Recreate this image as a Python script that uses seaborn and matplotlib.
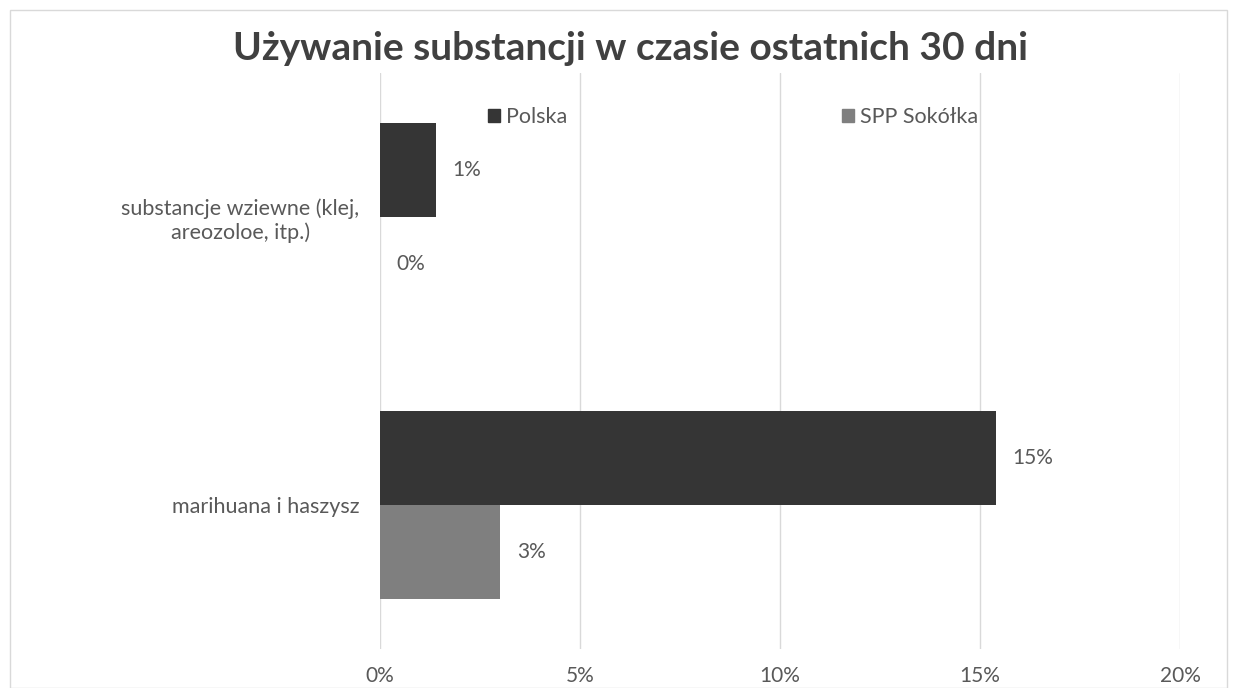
import pandas as pd
import numpy as np
import matplotlib.pyplot as plt
import seaborn as sns
from matplotlib.patches import Rectangle

categories = ['substancje wziewne (klej,\nareozoloe, itp.)', 'marihuana i haszysz']
series = ['Polska', 'SPP Sokółka']
polska = [1.4, 15.4]
sokolka = [0.0, 3.0]
xticks = [0, 5, 10, 15, 20]

df = pd.DataFrame({
    'kategoria': categories * 2,
    'grupa': [series[0]] * 2 + [series[1]] * 2,
    'wartosc': polska + sokolka,
})

sns.set_theme(style='white')
plt.rcParams['font.family'] = ['Lato', 'DejaVu Sans']

fig = plt.figure(figsize=(12.37, 6.88), dpi=100)
ax = fig.add_axes([380 / 1237, 1 - 649 / 688, 800 / 1237, 576 / 688])

sns.barplot(data=df, y='kategoria', x='wartosc', hue='grupa', orient='h',
            order=categories, hue_order=series,
            palette=['#353535', '#7f7f7f'], width=0.65, saturation=1,
            linewidth=0, ax=ax, legend=False)

for cont in ax.containers:
    ax.bar_label(cont, labels=[f'{v:.0f}%' for v in cont.datavalues],
                 padding=12, fontsize=15, color='#595959')

ax.set_xlim(0, 20)
ax.set_xticks(xticks)
ax.set_xticklabels([f'{t}%' for t in xticks], fontsize=15, color='#595959')
ax.tick_params(axis='x', length=0, pad=12)
ax.tick_params(axis='y', length=0, pad=15)
for lab in ax.get_yticklabels():
    lab.set_fontsize(15.5)
    lab.set_color('#595959')
    lab.set_multialignment('center')
ax.set_xlabel('')
ax.set_ylabel('')
ax.grid(axis='x', color='#d9d9d9', linewidth=1)
ax.set_axisbelow(True)
for s in ax.spines.values():
    s.set_visible(False)

handles = [Rectangle((0, 0), 1, 1, color=c) for c in ['#353535', '#7f7f7f']]
ax.legend(handles, series, loc='center', bbox_to_anchor=(0.5 - 47 / 800, 1 - (117 - 73) / 576),
          ncol=2, frameon=False, fontsize=15.5, handlelength=0.55, handleheight=0.55,
          handletextpad=0.25, columnspacing=12.8, labelcolor='#595959')

fig.suptitle('Używanie substancji w czasie ostatnich 30 dni', x=0.51, y=1 - 48 / 688,
             va='center', fontsize=28, fontweight='bold', color='#404040')

fig.patches.append(Rectangle((10 / 1237, 0), 1 - 20 / 1237, 1 - 10 / 688,
                             transform=fig.transFigure, fill=False,
                             edgecolor='#d9d9d9', linewidth=1))

fig.savefig('out.png', dpi=100)
